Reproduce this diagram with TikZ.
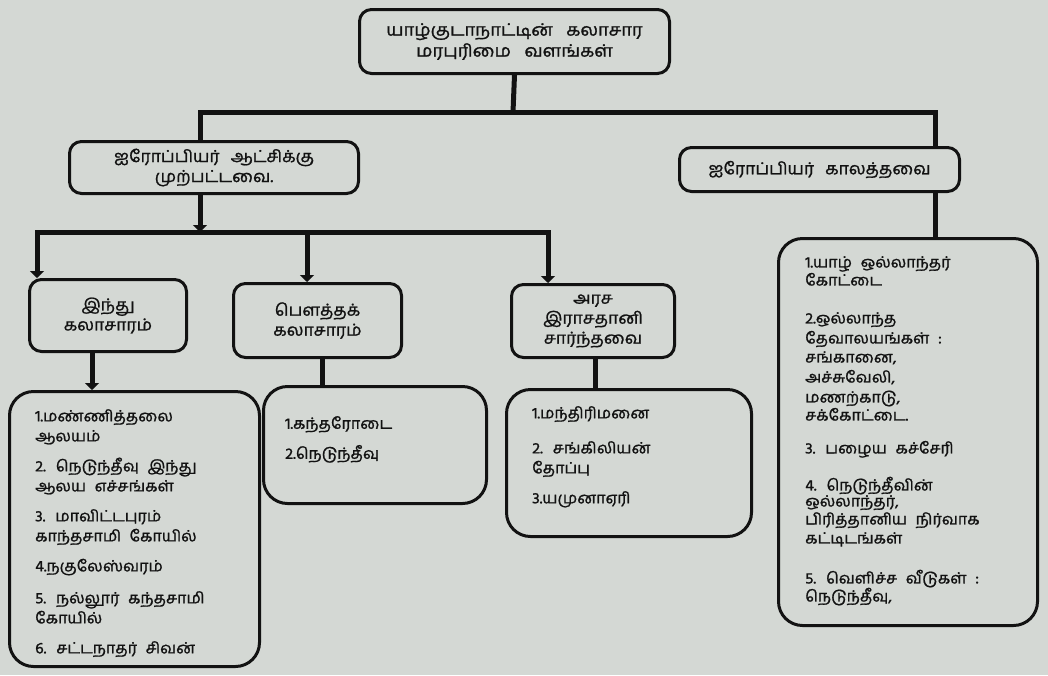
\documentclass[tikz,border=0pt]{standalone}
\usepackage{fontspec}
\newfontfamily\ta[Script=Tamil, FakeBold=1.2, WordSpace=2.2, FakeStretch=1.04]{Hind Madurai}
\newfontfamily\tb[Script=Tamil, FakeBold=1.2, WordSpace=2.6, FakeStretch=1.06]{Hind Madurai}
\newfontfamily\tc[Script=Tamil, FakeBold=1.3, WordSpace=3, FakeStretch=1.08]{Hind Madurai}
\usetikzlibrary{arrows.meta}
\definecolor{bg}{RGB}{212,216,212}
\definecolor{ink}{RGB}{18,18,18}
\tikzset{
  box/.style={draw=ink, line width=3pt, rounded corners=12pt, anchor=north west,
    inner sep=0pt, align=center, text=ink, font=\tb\fontsize{16.5}{20}\selectfont},
  topbox/.style={box, font=\tc\fontsize{17}{21}\selectfont},
  listbox/.style={box, rounded corners=24pt},
  conn/.style={draw=ink, line width=5pt},
  arr/.style={conn, -{Triangle[width=14pt,length=7pt]}},
  listtxt/.style={anchor=north west, inner sep=0pt, align=left, text=ink,
    font=\ta\fontsize{15.5}{20}\selectfont},
}
\begin{document}
\begin{tikzpicture}[x=1pt,y=-1pt]
\fill[bg] (0,0) rectangle (1048,675);
\useasboundingbox (0,0) rectangle (1048,675);

% boxes
\node[topbox, minimum width=310pt, minimum height=64pt] (top) at (358,8)
  {யாழ்குடாநாட்டின் கலாசார\\மரபுரிமை வளங்கள்};
\node[box, minimum width=289pt, minimum height=52pt] (l2a) at (68,140)
  {ஐரோப்பியர் ஆட்சிக்கு\\முற்பட்டவை.};
\node[box, minimum width=280pt, minimum height=44pt] (l2b) at (678,146)
  {ஐரோப்பியர் காலத்தவை};
\node[box, minimum width=157pt, minimum height=72pt] (hin) at (28,278)
  {இந்து\\கலாசாரம்};
\node[box, minimum width=168pt, minimum height=74pt] (bud) at (232,282)
  {பௌத்தக்\\கலாசாரம்};
\node[box, minimum width=163pt, minimum height=73pt] (ara) at (510,283)
  {அரச\\இராசதானி\\சார்ந்தவை};
\node[listbox, minimum width=250pt, minimum height=275pt] (hl) at (8,390) {};
\node[listbox, minimum width=223pt, minimum height=117pt] (bl) at (262,385) {};
\node[listbox, minimum width=245pt, minimum height=147pt] (al) at (505,388) {};
\node[listbox, minimum width=259pt, minimum height=387pt] (rl) at (777,237) {};

% list texts
\node[listtxt] (hlt) at (35,409) {1.மண்ணித்தலை\\ஆலயம்\\[10pt]
2. நெடுந்தீவு இந்து\\ஆலய எச்சங்கள்\\[10pt]
3. மாவிட்டபுரம்\\காந்தசாமி கோயில்\\[10pt]
4.நகுலேஸ்வரம்\\[12pt]
5. நல்லூர் கந்தசாமி\\கோயில்\\[10pt]
6. சட்டநாதர் சிவன்};
\node[listtxt] (blt) at (285,416) {1.கந்தரோடை\\[10pt]2.நெடுந்தீவு};
\node[listtxt] (alt) at (532,406) {1.மந்திரிமனை\\[15pt]2. சங்கிலியன்\\தோப்பு\\[10pt]3.யமுனாஏரி};
\node[listtxt] (rlt) at (805,256) {1.யாழ் ஒல்லாந்தர்\\[-2pt]கோட்டை\\[18pt]
2.ஒல்லாந்த\\தேவாலயங்கள் :\\[-1pt]சங்கானை,\\அச்சுவேலி,\\மணற்காடு,\\[-2pt]சக்கோட்டை.\\[13pt]
3. பழைய கச்சேரி\\[17pt]
4. நெடுந்தீவின்\\[-4pt]ஒல்லாந்தர்,\\[-2pt]பிரித்தானிய நிர்வாக\\[-1pt]கட்டிடங்கள்\\[20pt]
5. வெளிச்ச வீடுகள் :\\[-2pt]நெடுந்தீவு,};

% junction points
\coordinate (j0) at (513,112);
\coordinate (jl) at (200,112);
\coordinate (jr) at (935,112);
\coordinate (k0) at (200,232);
\coordinate (kl) at (37,232);
\coordinate (kb) at (307,232);
\coordinate (kr) at (548,232);
\coordinate (m1) at (92,0);
\coordinate (m2) at (322,0);
\coordinate (m3) at (595,0);

% connectors
\draw[conn] (top.south) -- (j0);
\draw[conn, line join=miter] (l2a.north -| jl) -- (jl) -- (jr) -- (l2b.north -| jr);
\draw[conn] (l2b.south -| jr) -- (rl.north -| jr);
\draw[arr] (l2a.south -| k0) -- (k0);
\draw[conn, line cap=rect] (kl) -- (kr);
\draw[arr] (kl) -- (hin.north -| kl);
\draw[arr] (kb) -- (bud.north -| kb);
\draw[arr] (kr) -- (ara.north -| kr);
\draw[arr] (hin.south -| m1) -- (hl.north -| m1);
\draw[conn] (bud.south -| m2) -- (bl.north -| m2);
\draw[conn] (ara.south -| m3) -- (al.north -| m3);
\end{tikzpicture}
\end{document}
